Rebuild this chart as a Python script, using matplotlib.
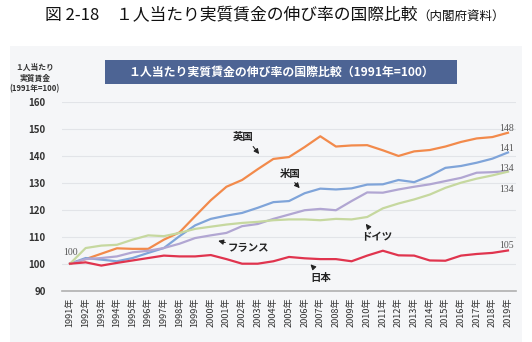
import matplotlib
matplotlib.use("Agg")
import matplotlib.pyplot as plt
from matplotlib.patches import Rectangle

plt.rcParams['font.family'] = ['Noto Sans CJK JP', 'DejaVu Sans']

years = list(range(1991, 2020))
year_labels = [f"{y}年" for y in years]

uk = [100, 101.7, 103.7, 105.7, 105.5, 105.5, 108.9, 111.6, 117.6, 123.5, 128.5, 131,
      135, 138.8, 139.5, 143.2, 147.2, 143.4, 143.8, 143.9, 142, 139.9, 141.6, 142.1,
      143.4, 145.1, 146.4, 146.9, 148.5]
usa = [100, 102.1, 101.5, 100.9, 102.1, 104, 105.8, 110.2, 114.2, 116.6, 117.8, 118.8,
       120.7, 122.8, 123.2, 126.1, 127.8, 127.5, 127.9, 129.3, 129.4, 131, 130.2, 132.5,
       135.5, 136.2, 137.4, 138.9, 141.2]
france = [100, 101.7, 102.1, 102.7, 104.2, 104.8, 105.8, 107.4, 109.5, 110.5, 111.4, 113.9,
          114.7, 116.6, 118.2, 119.8, 120.3, 119.8, 123.2, 126.4, 126.3, 127.5, 128.5, 129.4,
          130.6, 131.8, 133.7, 133.9, 134.3]
germany = [100, 105.8, 106.7, 107, 108.9, 110.5, 110.2, 111.4, 112.9, 113.7, 114.5, 115.1,
           115.5, 116.1, 116.4, 116.4, 116.1, 116.6, 116.4, 117.3, 120.5, 122.3, 123.8, 125.6,
           128.1, 130, 131.5, 132.7, 134.1]
japan = [100, 100.5, 99.3, 100.3, 101.2, 102.1, 103, 102.7, 102.7, 103.2, 101.7, 100,
         100, 100.9, 102.5, 102, 101.7, 101.7, 100.9, 103, 104.8, 103.1, 103, 101.2,
         101.1, 103, 103.6, 104, 104.9]

series = [
    ("英国", uk, "#f28a4b"),
    ("米国", usa, "#7fa4d9"),
    ("フランス", france, "#b1a6d2"),
    ("ドイツ", germany, "#c6d89f"),
    ("日本", japan, "#e0344e"),
]

end_labels = ["148", "141", "134", "134", "105"]
yticks = [90, 100, 110, 120, 130, 140, 150, 160]

W, H = 532, 342
fig = plt.figure(figsize=(W / 100, H / 100), dpi=100)
fig.patch.set_facecolor("white")

# chart panel background
fig.patches.append(Rectangle((10 / W, 0), (522 - 10) / W, 1 - 46 / H,
                             transform=fig.transFigure, facecolor="#f5f6f8",
                             edgecolor="none", zorder=0))
# banner
fig.patches.append(Rectangle((105 / W, 1 - 83.5 / H), (457 - 105) / W, 23.5 / H,
                             transform=fig.transFigure, facecolor="#4d6494",
                             edgecolor="none", zorder=1))
fig.text((105 + 457) / 2 / W, 1 - 72 / H, "１人当たり実質賃金の伸び率の国際比較（1991年=100）",
         color="white", fontsize=8.6, fontweight="bold", ha="center", va="center")

t1 = fig.text(45 / W, 1 - 16 / H, "図 2-18　１人当たり実質賃金の伸び率の国際比較",
              fontsize=12.1, ha="left", va="center", color="#111111")
fig.canvas.draw()
bb = t1.get_window_extent()
fig.text(bb.x1 / W, 1 - 16.5 / H, "（内閣府資料）", fontsize=9.0, ha="left",
         va="center", color="#111111")

ax = fig.add_axes([62.2 / W, 1 - 290.7 / H, (515.8 - 62.2) / W, (290.7 - 101.7) / H])
ax.set_zorder(3)
ax.set_facecolor("none")
ax.set_xlim(1990.5, 2019.5)
ax.set_ylim(90, 160)

for name, vals, col in series:
    ax.plot(years, vals, color=col, lw=1.6, solid_joinstyle="round")

ax.set_yticks(yticks)
ax.set_yticklabels([str(v) for v in yticks], fontsize=7, fontweight="bold", color="#333333")
ax.set_xticks(years)
ax.set_xticklabels(year_labels, rotation=90, fontsize=6.6, color="#333333")
ax.tick_params(length=0, pad=12, axis="y")
ax.tick_params(length=0, pad=5, axis="x")
ax.grid(axis="y", color="#e2e4e8", lw=0.8)
for s in ["top", "right", "left"]:
    ax.spines[s].set_visible(False)
ax.spines["bottom"].set_color("#b0b0b0")
ax.spines["bottom"].set_linewidth(1.2)
ax.set_axisbelow(True)

# y axis title
fig.text(35 / W, 1 - 78 / H, "１人当たり\n実質賃金\n(1991年=100)", fontsize=5.6,
         fontweight="bold", ha="center", va="center", linespacing=1.25, color="#333333")

# start and end labels
ax.text(1991, 102.5, "100", fontsize=7, color="#555555", ha="center", va="bottom",
        family=["Liberation Serif"])
end_y = [150.2, 142.8, 135.2, 127.3, 106.8]
for lab, yy in zip(end_labels, end_y):
    ax.text(2018.9, yy, lab, fontsize=7, color="#555555", ha="center", va="center",
            family=["Liberation Serif"])

# series name annotations
notes = [
    ("英国", (2002.05, 146.8), (2002.6, 144.2), (2003.2, 139.8)),
    ("米国", (2005.1, 133.1), (2005.25, 130.8), (2005.8, 127.2)),
    ("フランス", (2002.4, 106.0), (2001.1, 107.6), (2000.3, 108.7)),
    ("ドイツ", (2010.6, 109.6), (2010.2, 112.6), (2009.8, 115.6)),
    ("日本", (2007.0, 94.8), (2006.7, 97.8), (2006.25, 100.5)),
]
for txt, tpos, tail, head in notes:
    ax.text(tpos[0], tpos[1], txt, fontsize=7.5, fontweight="bold", ha="center",
            va="center", color="#222222")
    ax.annotate("", xy=head, xytext=tail,
                arrowprops=dict(arrowstyle="-|>,head_length=0.3,head_width=0.15",
                                color="#222222", lw=0.8))

fig.savefig("out.png", dpi=100, facecolor="white")
